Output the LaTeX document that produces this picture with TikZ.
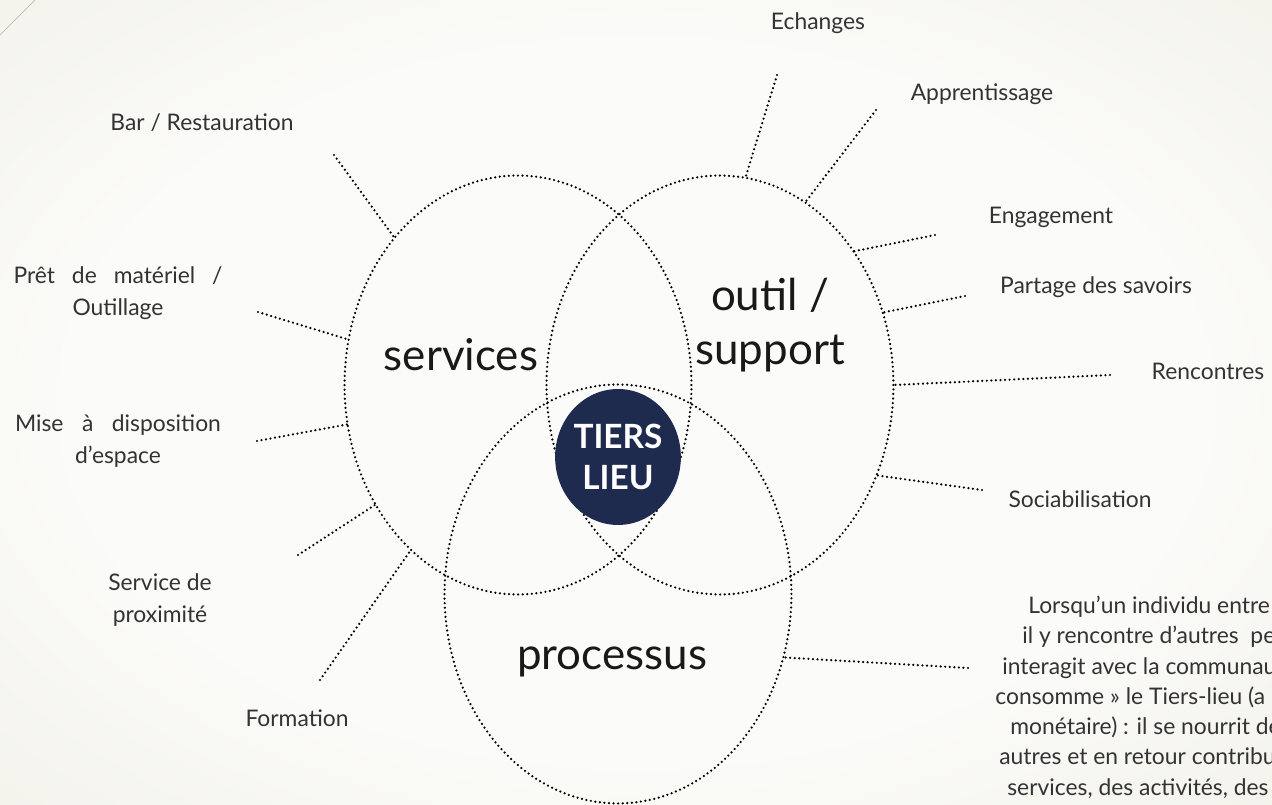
\documentclass[tikz,border=0pt]{standalone}
\usepackage{fontspec}
\setmainfont{Lato}
\usetikzlibrary{shapes.geometric}

\definecolor{bgwhite}{HTML}{FBFBF9}
\definecolor{bgmid}{HTML}{ECEADE}
\definecolor{bgbeige}{HTML}{DDD9C0}
\definecolor{navy}{HTML}{1F2A4F}
\definecolor{ink}{HTML}{333333}

\pgfdeclareradialshading{slidebg}{\pgfpoint{0bp}{0bp}}{color(0bp)=(bgwhite); color(22bp)=(bgwhite); color(50bp)=(bgmid); color(71bp)=(bgbeige)}

\tikzstyle{dotline} = [line width=1.4pt, line cap=round, dash pattern=on 0pt off 2.6pt, draw=black]
\tikzstyle{zone} = [ellipse, dotline, minimum width=6.94cm, minimum height=8.38cm, inner sep=0pt, outer sep=0pt]
\tikzstyle{hub} = [ellipse, fill=navy, minimum width=2.28cm, minimum height=2.72cm, inner sep=0pt, text=white, align=center, font=\fontsize{19}{23.8}\selectfont\bfseries]
\tikzstyle{big} = [font=\fontsize{25}{30.6}\selectfont, text=black!90, align=center, inner sep=0pt]
\tikzstyle{lbl} = [font=\fontsize{13}{18.2}\selectfont, text=ink, align=center, inner sep=0pt]

\begin{document}
\begin{tikzpicture}[x=0.02cm, y=-0.02cm]
  \shade [shading=slidebg] (0,0) rectangle (1272,805);
  \useasboundingbox (0,0) rectangle (1272,805);
  \draw [black!30, line width=0.4pt] (0,35) -- (35,0);

  % the three sets
  \node (services) [zone] at (518,385) {};
  \node (outil) [zone, right of=services, xshift=3.04cm] {};
  \node (processus) [zone, below of=services, xshift=2cm, yshift=-3.18cm] {};

  % free ends of the rays
  \coordinate (bar-end) at (334,155);
  \coordinate (pret-end) at (258,312);
  \coordinate (mise-end) at (257,441);
  \coordinate (proxi-end) at (298,555);
  \coordinate (formation-end) at (320,680);
  \coordinate (echanges-end) at (777,75);
  \coordinate (apprent-end) at (876,110);
  \coordinate (engage-end) at (935,235);
  \coordinate (partage-end) at (965,296);
  \coordinate (rencontres-end) at (1110,375);
  \coordinate (sociab-end) at (982,490);
  \coordinate (texte-end) at (968,668);

  \draw [dotline] (bar-end) -- (services.130);
  \draw [dotline] (pret-end) -- (services.165.5);
  \draw [dotline] (mise-end) -- (services.193);
  \draw [dotline] (proxi-end) -- (services.220);
  \draw [dotline] (formation-end) -- (services.237);
  \draw [dotline] (echanges-end) -- (outil.83.7);
  \draw [dotline] (apprent-end) -- (outil.65);
  \draw [dotline] (engage-end) -- (outil.45.4);
  \draw [dotline] (partage-end) -- (outil.24.4);
  \draw [dotline] (rencontres-end) -- (outil.0);
  \draw [dotline] (sociab-end) -- (outil.-30.6);
  \draw [dotline] (texte-end) -- (processus.-21);

  \node (tiers) [hub, above of=processus, yshift=1.74cm] {TIERS\\LIEU};

  \node (services-lbl) [big, anchor=base] at (461,370) {services};
  \node (outil-lbl) [big, anchor=base] at (770,364) {outil /\\support};
  \node (processus-lbl) [big, anchor=base] at (612,669) {processus};

  \node (bar) [lbl, anchor=base] at (202,130) {Bar / Restauration};
  \node (pret) [lbl, anchor=base] at (118,315) {\makebox[4.18cm][s]{Prêt de matériel /}\\Outillage};
  \node (mise) [lbl, anchor=base] at (118,463) {\makebox[4.12cm][s]{Mise à disposition}\\d’espace};
  \node (proxi) [lbl, anchor=base] at (160,622) {Service de\\proximité};
  \node (formation) [lbl, anchor=base] at (297,726) {Formation};
  \node (echanges) [lbl, anchor=base] at (818,29) {Echanges};
  \node (apprent) [lbl, anchor=base] at (982,100) {Apprentissage};
  \node (engage) [lbl, anchor=base] at (1051,223) {Engagement};
  \node (partage) [lbl, anchor=base] at (1096,293) {Partage des savoirs};
  \node (rencontres) [lbl, anchor=base] at (1208,379) {Rencontres};
  \node (sociab) [lbl, anchor=base] at (1080,507) {Sociabilisation};
  \node (texte) [lbl, align=left, anchor=base west, font=\fontsize{13}{17.2}\selectfont] at (995,795) {\hspace*{0.66cm}Lorsqu'un individu entre\\\hspace*{0.54cm}il y rencontre d'autres\ \ pe\\\hspace*{0.14cm}interagit avec la communau\\consomme » le Tiers-lieu (a\\\hspace*{0.30cm}monétaire) : il se nourrit de\\\hspace*{0.08cm}autres et en retour contribu\\\hspace*{0.24cm}services, des activités, des};
\end{tikzpicture}
\end{document}
